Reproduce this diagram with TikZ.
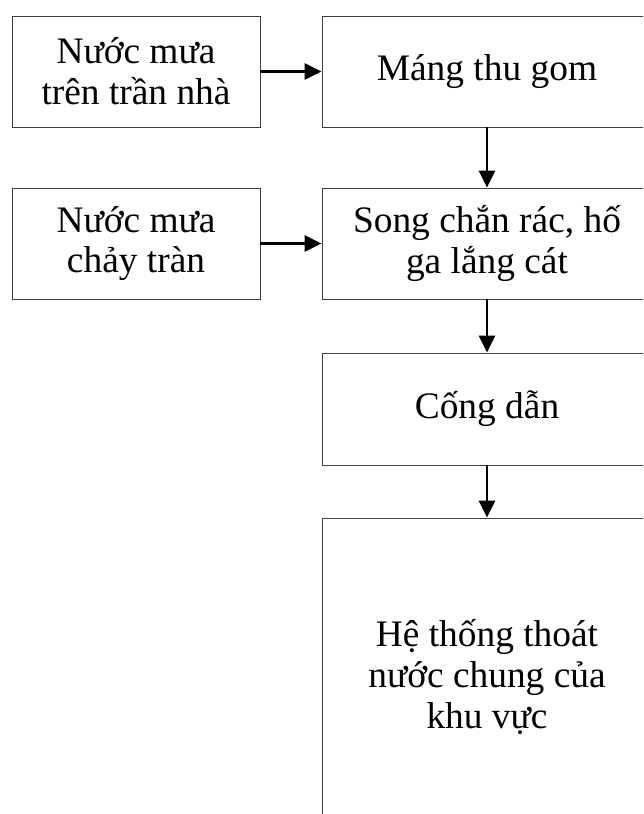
\documentclass[tikz,border=0pt]{standalone}
\usepackage{fontspec}
\setmainfont{Liberation Serif}
\usetikzlibrary{arrows.meta}
\tikzset{
  box/.style={rectangle, draw=black!75, line width=0.7pt, align=center, inner sep=0pt, font=\fontsize{26.6}{29}\selectfont},
  flow/.style={line width=1.5pt, -{Triangle[length=0.42cm, width=0.4cm]}}
}

\begin{document}
\begin{tikzpicture}
      \useasboundingbox (0,0) rectangle (16.075,-20.35);
      \clip (0,0) rectangle (16.075,-20.35);

      \node[box, minimum width=6.2cm, minimum height=2.775cm] (1) at (3.4,-1.7875) {Nước mưa\\trên trần nhà};
      \node[box, minimum width=8.25cm, minimum height=2.775cm] (2) at (12.175,-1.7875) {Máng thu gom};
      \node[box, minimum width=6.2cm, minimum height=2.775cm] (3) at (3.4,-6.0875) {Nước mưa\\chảy tràn};
      \node[box, minimum width=8.25cm, minimum height=2.775cm] (4) at (12.175,-6.0875) {Song chắn rác, hố\\ga lắng cát};
      \node[box, minimum width=8.25cm, minimum height=2.8cm] (5) at (12.175,-10.225) {Cống dẫn};
      \node[box, minimum width=8.25cm, minimum height=7.95cm] (6) at (12.175,-16.925) {Hệ thống thoát\\nước chung của\\khu vực};

      \draw[flow] (1) -- (2);
      \draw[flow] (3) -- (4);
      \draw[flow] (2) -- (4);
      \draw[flow] (4) -- (5);
      \draw[flow] (5) -- (6);
    \end{tikzpicture}
\end{document}
